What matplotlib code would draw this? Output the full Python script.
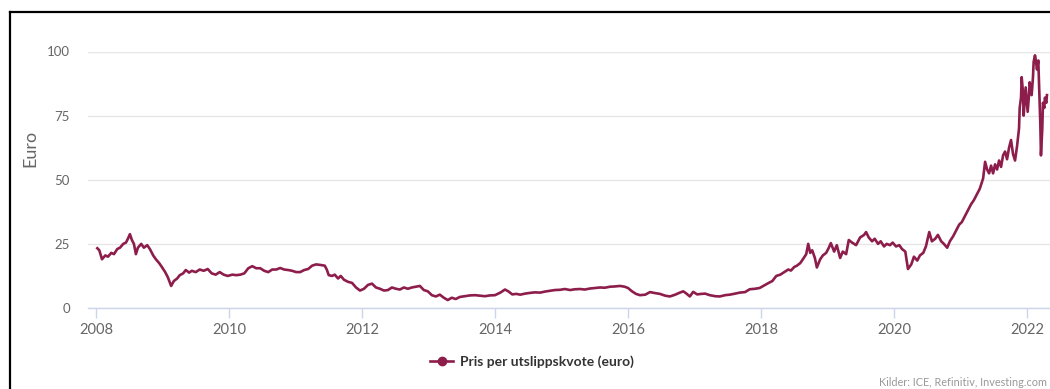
import matplotlib.pyplot as plt
from matplotlib.lines import Line2D

# Price per emission allowance (EUA), decimal years
years = [
    2008.02, 2008.05, 2008.09, 2008.14, 2008.18, 2008.23, 2008.27, 2008.32, 2008.36, 2008.41,
    2008.45, 2008.48, 2008.51, 2008.54, 2008.57, 2008.60, 2008.63, 2008.68, 2008.72, 2008.77,
    2008.81, 2008.86, 2008.90, 2008.95, 2008.99, 2009.04, 2009.08, 2009.13, 2009.17, 2009.22,
    2009.26, 2009.31, 2009.35, 2009.40, 2009.44, 2009.50, 2009.56, 2009.62, 2009.68, 2009.74,
    2009.80, 2009.86, 2009.92, 2009.98, 2010.05, 2010.11, 2010.17, 2010.23, 2010.29, 2010.35,
    2010.41, 2010.47, 2010.53, 2010.59, 2010.65, 2010.71, 2010.77, 2010.83, 2010.89, 2010.95,
    2011.01, 2011.07, 2011.13, 2011.19, 2011.25, 2011.31, 2011.37, 2011.44, 2011.47, 2011.50,
    2011.55, 2011.59, 2011.64, 2011.68, 2011.73, 2011.79, 2011.85, 2011.91, 2011.97, 2012.03,
    2012.09, 2012.15, 2012.21, 2012.27, 2012.33, 2012.39, 2012.45, 2012.51, 2012.57, 2012.63,
    2012.69, 2012.75, 2012.81, 2012.87, 2012.93, 2012.99, 2013.05, 2013.11, 2013.17, 2013.23,
    2013.29, 2013.35, 2013.41, 2013.47, 2013.55, 2013.62, 2013.70, 2013.77, 2013.85, 2013.92,
    2014.00, 2014.08, 2014.15, 2014.20, 2014.26, 2014.32, 2014.38, 2014.45, 2014.53, 2014.60,
    2014.68, 2014.75, 2014.83, 2014.90, 2014.98, 2015.05, 2015.13, 2015.20, 2015.28, 2015.35,
    2015.43, 2015.50, 2015.58, 2015.65, 2015.73, 2015.80, 2015.88, 2015.95, 2016.00, 2016.06,
    2016.12, 2016.18, 2016.26, 2016.33, 2016.41, 2016.48, 2016.56, 2016.63, 2016.71, 2016.78,
    2016.83, 2016.87, 2016.93, 2016.98, 2017.04, 2017.10, 2017.16, 2017.23, 2017.31, 2017.38,
    2017.46, 2017.53, 2017.61, 2017.68, 2017.76, 2017.83, 2017.91, 2017.98, 2018.06, 2018.11,
    2018.17, 2018.23, 2018.29, 2018.35, 2018.41, 2018.45, 2018.50, 2018.54, 2018.59, 2018.63,
    2018.68, 2018.71, 2018.74, 2018.77, 2018.81, 2018.84, 2018.89, 2018.93, 2018.98, 2019.02,
    2019.05, 2019.10, 2019.14, 2019.19, 2019.23, 2019.28, 2019.32, 2019.37, 2019.43, 2019.49,
    2019.55, 2019.58, 2019.62, 2019.67, 2019.71, 2019.76, 2019.80, 2019.85, 2019.89, 2019.94,
    2019.98, 2020.03, 2020.08, 2020.12, 2020.17, 2020.21, 2020.26, 2020.30, 2020.35, 2020.39,
    2020.44, 2020.48, 2020.53, 2020.57, 2020.62, 2020.66, 2020.71, 2020.75, 2020.80, 2020.84,
    2020.89, 2020.93, 2020.98, 2021.02, 2021.07, 2021.11, 2021.16, 2021.20, 2021.25, 2021.29,
    2021.34, 2021.37, 2021.40, 2021.43, 2021.46, 2021.49, 2021.52, 2021.55, 2021.58, 2021.61,
    2021.64, 2021.67, 2021.70, 2021.73, 2021.76, 2021.79, 2021.82, 2021.85, 2021.88, 2021.89,
    2021.91, 2021.92, 2021.94, 2021.95, 2021.97, 2021.98, 2022.00, 2022.01, 2022.03, 2022.04,
    2022.06, 2022.07, 2022.09, 2022.10, 2022.12, 2022.13, 2022.15, 2022.17, 2022.18, 2022.20,
    2022.21, 2022.23, 2022.24, 2022.26, 2022.27, 2022.29, 2022.30,
]
prices = [
    23.3, 22.5, 19.0, 20.5, 20.0, 21.5, 21.0, 23.0, 23.5, 25.0,
    25.5, 27.0, 28.8, 26.5, 25.0, 21.0, 23.5, 25.0, 23.5, 24.5,
    23.0, 20.5, 19.0, 17.5, 16.0, 14.0, 12.0, 8.6, 10.5, 11.5,
    12.8, 13.5, 14.8, 13.8, 14.5, 14.0, 15.0, 14.5, 15.2, 13.5,
    13.0, 14.0, 13.0, 12.5, 13.0, 12.8, 13.0, 13.5, 15.5, 16.3,
    15.5, 15.5, 14.5, 14.0, 15.0, 15.0, 15.6, 15.0, 14.8, 14.5,
    14.0, 14.0, 14.8, 15.2, 16.5, 17.0, 16.8, 16.5, 15.0, 12.8,
    12.5, 13.0, 11.5, 12.5, 11.0, 10.2, 9.8, 8.0, 6.8, 7.5,
    9.0, 9.5, 8.0, 7.5, 6.8, 7.0, 8.0, 7.5, 7.2, 8.0,
    7.5, 8.0, 8.3, 8.6, 7.0, 6.5, 5.0, 4.5, 5.2, 4.0,
    3.1, 4.0, 3.5, 4.3, 4.6, 4.9, 5.0, 4.8, 4.6, 4.9,
    5.0, 6.0, 7.2, 6.5, 5.3, 5.5, 5.2, 5.6, 5.9, 6.1,
    6.0, 6.4, 6.7, 7.0, 7.1, 7.4, 7.0, 7.3, 7.4, 7.2,
    7.6, 7.8, 8.0, 7.9, 8.3, 8.4, 8.6, 8.3, 7.8, 6.5,
    5.5, 5.0, 5.2, 6.2, 5.8, 5.5, 4.8, 4.5, 5.2, 6.0,
    6.5, 5.8, 4.5, 6.3, 5.3, 5.5, 5.6, 5.0, 4.6, 4.5,
    5.0, 5.2, 5.6, 6.0, 6.2, 7.3, 7.5, 7.8, 9.0, 9.7,
    10.5, 12.5, 13.0, 14.0, 15.0, 14.6, 16.0, 16.5, 17.5, 19.0,
    21.0, 25.0, 21.5, 22.5, 19.5, 15.8, 19.0, 20.5, 21.5, 23.5,
    25.3, 22.0, 24.5, 19.5, 22.0, 21.0, 26.5, 25.5, 24.5, 27.5,
    28.5, 29.6, 27.5, 26.0, 27.0, 25.0, 26.0, 24.0, 25.0, 24.5,
    25.5, 24.0, 24.5, 23.0, 22.0, 15.2, 17.0, 20.0, 18.5, 20.5,
    21.5, 24.0, 29.6, 26.0, 27.0, 28.5, 26.0, 25.0, 23.5, 26.0,
    28.0, 30.0, 32.5, 33.5, 36.0, 38.0, 40.5, 42.0, 44.5, 46.5,
    50.5, 57.0, 54.0, 52.5, 55.5, 52.5, 56.0, 54.0, 57.5, 55.0,
    59.5, 61.0, 58.0, 62.5, 65.5, 60.0, 57.5, 63.0, 70.0, 78.0,
    82.0, 90.0, 84.0, 75.0, 82.0, 86.0, 80.0, 76.5, 83.0, 88.0,
    85.0, 83.0, 90.0, 96.0, 98.5, 97.0, 93.0, 96.5, 88.0, 72.0,
    59.5, 70.0, 80.0, 78.0, 82.0, 80.0, 83.0,
]

x_ticks = [2008, 2010, 2012, 2014, 2016, 2018, 2020, 2022]
y_ticks = [0, 25, 50, 75, 100]

plt.rcParams['font.family'] = ['Lato', 'DejaVu Sans']

W, H = 1050, 389
line_color = '#8d1d4b'

fig = plt.figure(figsize=(W / 100, H / 100), dpi=100)
ax = fig.add_axes([88 / W, (H - 308) / H, (W - 88) / W, (308 - 51.5) / H])

ax.plot(years, prices, color=line_color, linewidth=1.9, clip_on=False, zorder=3)

ax.set_xlim(2008 - 8 / 66.5, 2008 + (W - 96) / 66.5)
ax.set_ylim(0, 100)
ax.set_xticks(x_ticks)
ax.set_yticks(y_ticks)
ax.set_xticklabels([str(t) for t in x_ticks])

ax.grid(axis='y', color='#e6e6e6', linewidth=1.0)
ax.set_axisbelow(True)
for side in ['top', 'right', 'left']:
    ax.spines[side].set_visible(False)
ax.spines['bottom'].set_color('#ccd6eb')
ax.spines['bottom'].set_linewidth(1.0)

ax.tick_params(axis='x', colors='#ccd6eb', length=7, width=1, pad=4,
               labelcolor='#666666', labelsize=10.5)
ax.tick_params(axis='y', length=0, pad=13, labelcolor='#666666', labelsize=9.5)

fig.text(30 / W, 1 - 148 / H, 'Euro', rotation=90, ha='center', va='center',
         color='#666666', fontsize=13)

# legend entry under the chart
leg = ax.legend(handles=[Line2D([], [], color=line_color, linewidth=1.9, marker='o',
                                markersize=6, label='Pris per utslippskvote (euro)')],
                loc='center', bbox_to_anchor=(532 / W, 1 - 362 / H),
                bbox_transform=fig.transFigure, frameon=False, handlelength=1.6,
                handletextpad=0.5, prop={'weight': 'bold', 'size': 10})
for t in leg.get_texts():
    t.set_color('#333333')

fig.text(1047 / W, 1 - 383 / H, 'Kilder: ICE, Refinitiv, Investing.com',
         ha='right', va='center', color='#999999', fontsize=7.8)

# frame around the figure
fig.add_artist(Line2D([10 / W, 10 / W], [0, 1 - 12 / H], color='black', linewidth=1.6,
                      transform=fig.transFigure))
fig.add_artist(Line2D([10 / W, 1], [1 - 12 / H, 1 - 12 / H], color='black', linewidth=1.6,
                      transform=fig.transFigure))

fig.savefig('out.png', dpi=100)
